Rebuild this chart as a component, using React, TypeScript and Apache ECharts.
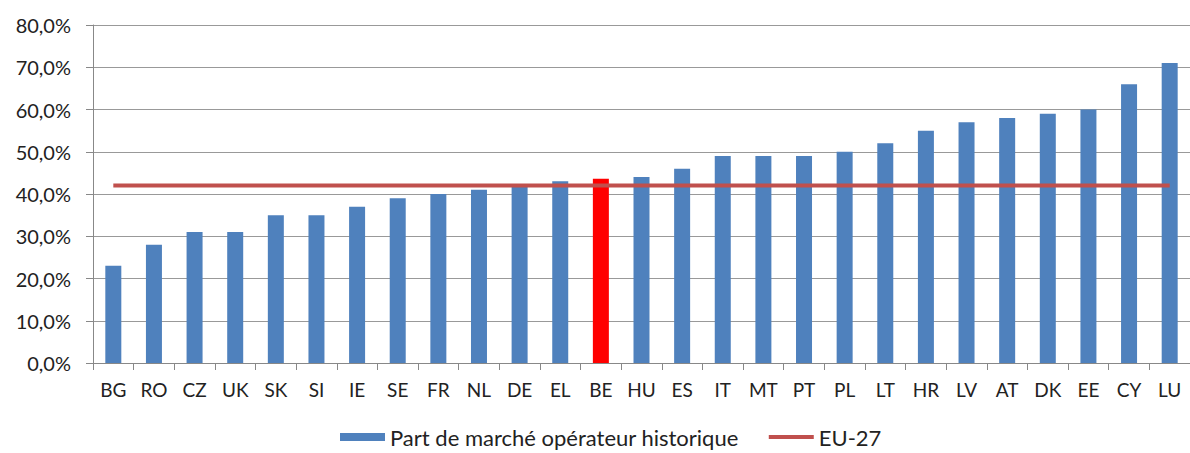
import React, { useEffect, useRef } from "react";
import * as echarts from "echarts";

const categories = ["BG","RO","CZ","UK","SK","SI","IE","SE","FR","NL","DE","EL","BE","HU","ES","IT","MT","PT","PL","LT","HR","LV","AT","DK","EE","CY","LU"];
const shareValues = [23,28,31,31,35,35,37,39,40,41,42,43,43.6,44,46,49,49,49,50,52,55,57,58,59,60,66,71];
const eu27Values = categories.map(() => 42);
const highlighted = "BE";
const seriesNames = ["Part de marché opérateur historique", "EU-27"];

export default function App() {
  const ref = useRef<HTMLDivElement>(null);
  useEffect(() => {
    if (!ref.current) return;
    const chart = echarts.init(ref.current, undefined, { renderer: "svg" });
    const font = "Lato, 'Liberation Sans', sans-serif";
    chart.setOption({
      animation: false,
      backgroundColor: "#fff",
      grid: { left: 93, right: -7.5, top: 25, bottom: 90 },
      legend: {
        top: 425,
        left: 340,
        padding: 0,
        itemGap: 30,
        itemWidth: 45,
        itemHeight: 8,
        textStyle: { fontFamily: font, fontSize: 22, color: "#222", lineHeight: 24 },
        data: [
          { name: seriesNames[0], icon: "rect" },
          { name: seriesNames[1], icon: "path://M0 0 H45 V4 H0 Z", itemStyle: { color: "#C0504D" } },
        ],
      },
      xAxis: {
        type: "category",
        data: categories,
        axisLine: { lineStyle: { color: "#888", width: 1 } },
        axisTick: { show: true, length: 7, lineStyle: { color: "#888" } },
        axisLabel: { fontFamily: font, fontSize: 19, color: "#222", margin: 17, interval: 0 },
      },
      yAxis: {
        type: "value",
        min: 0,
        max: 80,
        interval: 10,
        axisLine: { show: true, lineStyle: { color: "#888" } },
        axisTick: { show: true, length: 7, lineStyle: { color: "#888" } },
        splitLine: { lineStyle: { color: "#999", width: 1 } },
        axisLabel: {
          fontFamily: font,
          fontSize: 20,
          color: "#222",
          margin: 22,
          formatter: (v: number) => v.toFixed(1).replace(".", ",") + "%",
        },
      },
      series: [
        {
          name: seriesNames[0],
          type: "bar",
          barWidth: 16,
          itemStyle: { color: "#4F81BD" },
          data: shareValues.map((v, i) => ({
            value: v,
            itemStyle: { color: categories[i] === highlighted ? "#FF0000" : "#4F81BD" },
          })),
        },
        {
          name: seriesNames[1],
          type: "line",
          symbol: "none",
          data: eu27Values,
          lineStyle: { color: "#C0504D", width: 4 },
          itemStyle: { color: "#C0504D" },
          z: 5,
        },
      ],
    });
    return () => chart.dispose();
  }, []);
  return (
    <div
      ref={ref}
      style={{ position: "fixed", left: 0, top: 0, width: 1190, height: 453, overflow: "hidden" }}
    />
  );
}
